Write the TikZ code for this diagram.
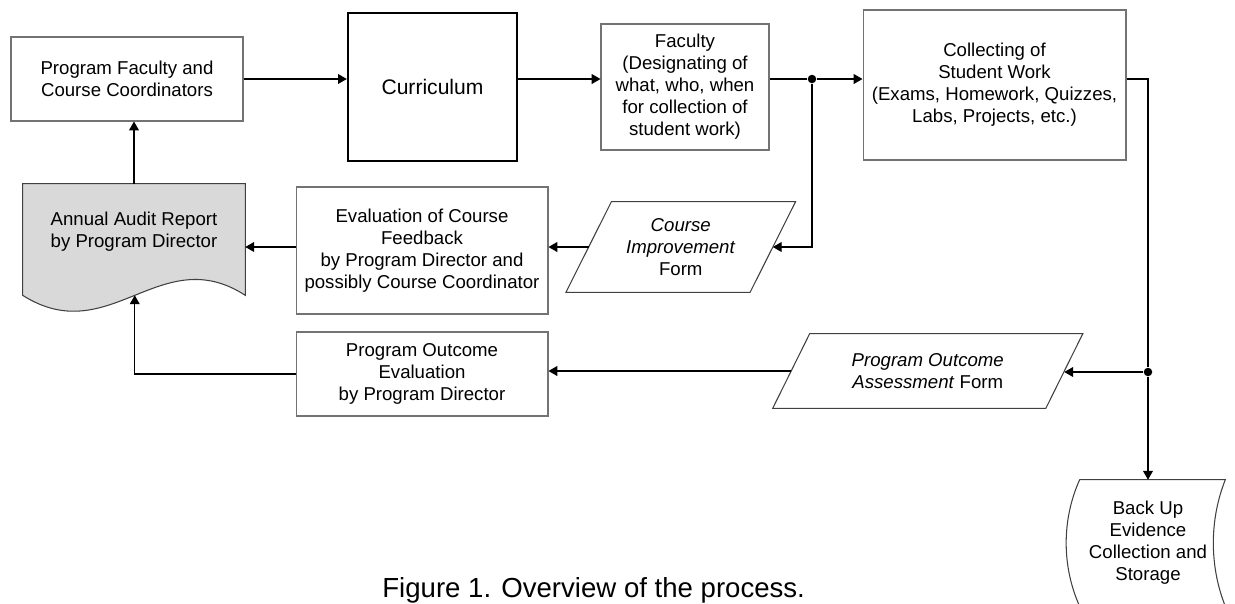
\documentclass[tikz,border=0pt]{standalone}
\usepackage{fontspec}
\setmainfont{Liberation Sans}
\usetikzlibrary{arrows.meta, positioning, calc, backgrounds}

\begin{document}
\begin{tikzpicture}[x=0.02cm, y=-0.02cm, >={Triangle[length=5pt, width=5.6pt]},
  box/.style={draw=black!55, line width=0.6pt, align=center, inner sep=0pt,
    font=\fontsize{10.6}{12.5}\selectfont},
  plain/.style={align=center, inner sep=0pt, font=\fontsize{10.6}{12.5}\selectfont},
  outline/.style={draw=black!75, line width=0.6pt},
  link/.style={draw=black, line width=0.6pt},
  junction/.style={circle, fill=black, inner sep=0pt, minimum size=0.17cm}]
  \useasboundingbox (0,0) rectangle (1235,603);

  % Top row
  \node[box, minimum width=4.64cm, minimum height=1.68cm] (coord) at (127,79)
    {Program Faculty and\\Course Coordinators};
  \node[box, draw=black, line width=1.4pt, minimum width=3.38cm, minimum height=2.96cm,
    font=\fontsize{12}{14}\selectfont] (curr) at (432.5,87) {Curriculum};
  \node[box, minimum width=3.36cm, minimum height=2.52cm] (faculty) at (685,87)
    {Faculty\\(Designating of\\what, who, when\\for collection of\\student work)};
  \node[box, minimum width=5.26cm, minimum height=3cm] (collect) at (994.5,85)
    {Collecting of\\Student Work\\(Exams, Homework, Quizzes,\\Labs, Projects, etc.)};

  % Middle and bottom rows
  \node[plain, minimum width=4.44cm, minimum height=1.9cm] (audit) at (134,231.5)
    {Annual Audit Report\\by Program Director};
  \node[box, minimum width=5.04cm, minimum height=2.54cm] (feedback) at (422,250.5)
    {Evaluation of Course\\Feedback\\by Program Director and\\possibly Course Coordinator};
  \node[plain, minimum width=3.67cm, minimum height=1.8cm] (ciform) at (680.75,247)
    {\textit{Course}\\\textit{Improvement}\\Form};
  \node[box, minimum width=5.04cm, minimum height=1.68cm] (outcome) at (422,374)
    {Program Outcome\\Evaluation\\by Program Director};
  \node[plain, minimum width=5.45cm, minimum height=1.48cm] (poform) at (927.75,371)
    {\textit{Program Outcome}\\\textit{Assessment} Form};
  \node[plain, minimum width=2.9cm, minimum height=2.52cm] (backup) at (1148,543)
    {Back Up\\Evidence\\Collection and\\Storage};

  % Report shape with wavy bottom
  \begin{scope}[on background layer]
    \draw[outline, fill=black!15] (audit.north west) -- (audit.north east)
      -- ($(audit.south east)+(0,16)$)
      .. controls ($(audit.south east)+(-85,-39)$) and ($(audit.south west)+(87,71)$)
      .. coordinate[pos=0.5] (wave) ($(audit.south west)+(0,16)$) -- cycle;
  \end{scope}

  % Forms
  \draw[outline] ($(ciform.north west)+(22.75,0)$) -- ($(ciform.north east)+(22.75,0)$)
    -- ($(ciform.south east)+(-22.75,0)$) -- ($(ciform.south west)+(-22.75,0)$) -- cycle;
  \draw[outline] ($(poform.north west)+(18.5,0)$) -- ($(poform.north east)+(18.5,0)$)
    -- ($(poform.south east)+(-18.5,0)$) -- ($(poform.south west)+(-18.5,0)$) -- cycle;

  % Stored data shape
  \coordinate (bnw) at ($(backup.north west)+(4.5,0)$);
  \coordinate (bne) at ($(backup.north east)+(4.5,0)$);
  \coordinate (bsw) at ($(backup.south west)+(4.5,0)$);
  \coordinate (bse) at ($(backup.south east)+(4.5,0)$);
  \draw[outline] (bnw) -- (bne) .. controls +(-16,40) and +(-16,-40) .. (bse)
    -- (bsw) .. controls +(-18,-40) and +(-18,40) .. (bnw);

  % Connectors
  \draw[link, ->] (coord.east) -- (coord.east -| curr.west);
  \draw[link, ->] (coord.east -| curr.east) -- (coord.east -| faculty.west);
  \node[junction] (split) at (812,79) {};
  \draw[link] (coord.east -| faculty.east) -- (split);
  \draw[link, ->] (split) -- (split -| collect.west);
  \draw[link, ->] (split) |- (ciform.east);
  \draw[link, ->] (ciform.west) -- (ciform.west -| feedback.east);
  \draw[link, ->] (ciform.west -| feedback.west) -- (ciform.west -| audit.east);
  \draw[link, ->] (audit.north) -- (audit.north |- coord.south);

  \node[junction] (fork) at (1148,372) {};
  \draw[link] (split -| collect.east) -| (fork);
  \draw[link, ->] (fork) -- (backup.north);
  \draw[link, ->] (fork) -- (fork -| poform.east);
  \draw[link, ->] (poform.west) -- (poform.west -| outcome.east);
  \draw[link, ->] (outcome.west) -| (wave);

  % Caption
  \node[anchor=base west, inner sep=0pt, font=\fontsize{15.7}{18}\selectfont] (caption)
    at (382,597) {Figure 1. Overview of the process.};
\end{tikzpicture}
\end{document}
